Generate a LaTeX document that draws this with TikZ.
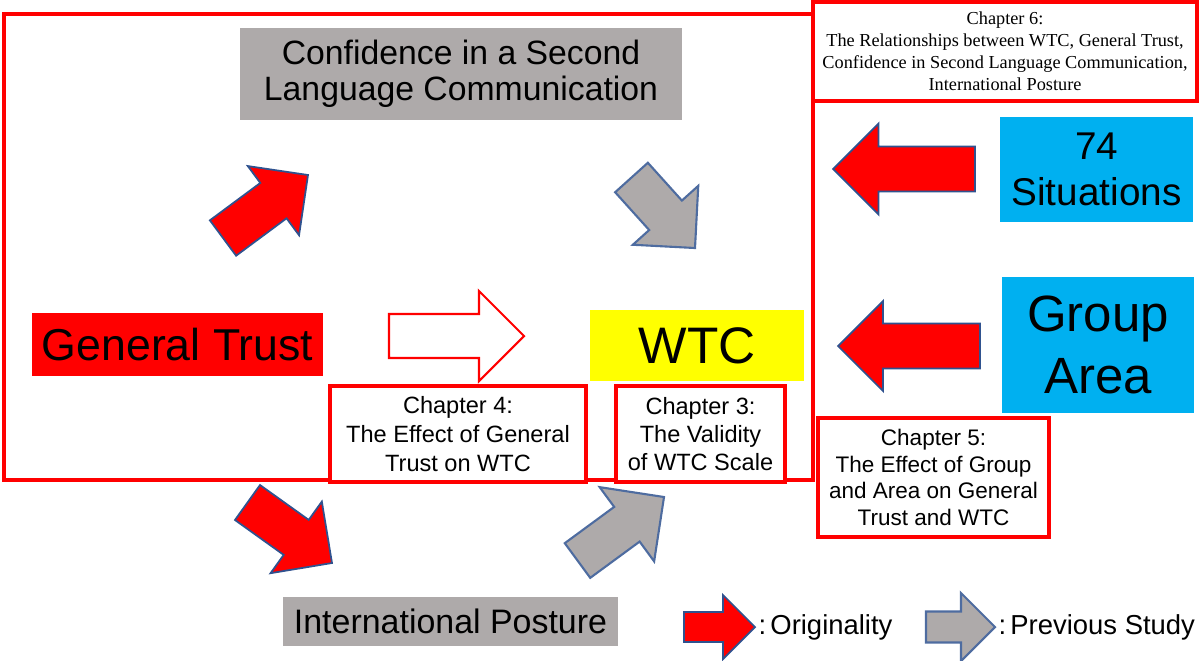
\documentclass[tikz,border=0pt]{standalone}
\usepackage{fontspec}
\setmainfont{Liberation Sans}
\newfontfamily\chapserif{Liberation Serif}
\usetikzlibrary{calc}

\definecolor{pptred}{HTML}{FF0000}
\definecolor{pptgray}{HTML}{AEAAAA}
\definecolor{pptblue}{HTML}{00B0F0}
\definecolor{pptyellow}{HTML}{FFFF00}
\definecolor{pptline}{HTML}{2F528F}

% block arrow: [style]{tail}{tip}{half shaft}{half head}
\newcommand{\fatarrow}[5][]{%
  \coordinate (fa) at ($(#3)!#5!(#2)$);
  \draw[#1] ($(#2)!#4!90:(#3)$) -- ($(fa)!#4!90:(#3)$) -- ($(fa)!#5!90:(#3)$)
    -- (#3) -- ($(fa)!#5!-90:(#3)$) -- ($(fa)!#4!-90:(#3)$) -- ($(#2)!#4!-90:(#3)$) -- cycle;
}

\tikzset{
  greybox/.style={fill=pptgray, inner sep=0pt, align=center},
  bluebox/.style={fill=pptblue, inner sep=0pt, align=center},
  chapbox/.style={draw=pptred, line width=1.2pt, fill=white, inner sep=0pt, align=center},
  redarrow/.style={fill=pptred, draw=pptline, line width=0.5pt},
  greyarrow/.style={fill=pptgray, draw=pptline!85, line width=0.6pt},
  legendtext/.style={anchor=west, inner sep=0pt, font=\fontsize{7.8}{9.4}\selectfont},
}

\begin{document}
\begin{tikzpicture}[x=0.01cm, y=-0.01cm]
    \useasboundingbox (0,0) rectangle (1201,660);

    % frame round the model
    \draw[pptred, line width=1.2pt] (4,14) rectangle (813,480);

    \node[chapbox, minimum width=3.84cm, minimum height=0.99cm,
          font=\chapserif\fontsize{5.2}{6.3}\selectfont] (ch6) at (1005,51.5) {
        Chapter 6:\\
        The Relationships between WTC, General Trust,\\
        Confidence in Second Language Communication,\\
        International Posture
    };

    % variables
    \node[greybox, minimum width=4.42cm, minimum height=0.92cm,
          font=\fontsize{9.6}{10.3}\selectfont] (conf) at (461,74) {Confidence in a Second\\Language Communication};
    \node[fill=pptred, inner sep=0pt, minimum width=2.91cm, minimum height=0.63cm,
          font=\fontsize{12.7}{15}\selectfont] (trust) at (177.5,344.5) {General Trust};
    \node[fill=pptyellow, inner sep=0pt, minimum width=2.14cm, minimum height=0.71cm,
          font=\fontsize{14.6}{17}\selectfont] (wtc) at (697,345.5) {WTC};
    \node[greybox, minimum width=3.35cm, minimum height=0.49cm,
          font=\fontsize{9.65}{11}\selectfont] (posture) at (450.5,621.5) {International Posture};
    \node[bluebox, minimum width=1.93cm, minimum height=1.05cm,
          font=\fontsize{11}{13}\selectfont] (sit) at (1096.5,169.5) {74\\Situations};
    \node[bluebox, minimum width=1.92cm, minimum height=1.36cm,
          font=\fontsize{14.5}{17.5}\selectfont] (grp) at (1098,345) {Group\\Area};

    % chapters
    \node[chapbox, minimum width=2.56cm, minimum height=0.96cm,
          font=\fontsize{6.7}{8.2}\selectfont] (ch4) at (458,434) {Chapter 4:\\The Effect of General\\Trust on WTC};
    \node[chapbox, minimum width=1.69cm, minimum height=0.96cm,
          font=\fontsize{6.7}{8}\selectfont] (ch3) at (700.5,434) {Chapter 3:\\The Validity\\of WTC Scale};
    \node[chapbox, minimum width=2.31cm, minimum height=1.19cm,
          font=\fontsize{6.4}{7.6}\selectfont] (ch5) at (933.5,477.5) {Chapter 5:\\The Effect of Group\\and Area on General\\Trust and WTC};

    % arrows
    \coordinate (trust-conf) at (223,238);   \coordinate (conf-in) at (308,175);
    \coordinate (conf-wtc) at (631.5,177.5); \coordinate (wtc-top) at (695,248);
    \coordinate (trust-wtc) at (389,336);    \coordinate (wtc-left) at (524,336);
    \coordinate (trust-post) at (247.5,502.5); \coordinate (post-in) at (332,563);
    \coordinate (post-wtc) at (577.5,560.5); \coordinate (wtc-bot) at (664,497);
    \coordinate (sit-out) at (975,169);      \coordinate (sit-in) at (833,169);
    \coordinate (grp-out) at (980,346);      \coordinate (grp-in) at (838,346);

    \fatarrow[redarrow]{trust-conf}{conf-in}{0.22cm}{0.43cm}
    \fatarrow[greyarrow]{conf-wtc}{wtc-top}{0.22cm}{0.44cm}
    \fatarrow[draw=pptred, fill=white, line width=0.6pt]{trust-wtc}{wtc-left}{0.22cm}{0.45cm}
    \fatarrow[redarrow]{trust-post}{post-in}{0.215cm}{0.44cm}
    \fatarrow[greyarrow]{post-wtc}{wtc-bot}{0.215cm}{0.46cm}
    \fatarrow[redarrow]{sit-out}{sit-in}{0.225cm}{0.455cm}
    \fatarrow[redarrow]{grp-out}{grp-in}{0.225cm}{0.45cm}

    % legend
    \coordinate (lr-s) at (684,627); \coordinate (lr-e) at (755,627);
    \coordinate (lg-s) at (926,627); \coordinate (lg-e) at (995,627);
    \fatarrow[redarrow]{lr-s}{lr-e}{0.15cm}{0.32cm}
    \fatarrow[greyarrow]{lg-s}{lg-e}{0.155cm}{0.34cm}
    \node[legendtext] (orig) at (758,627) {:\hspace{0.15em}Originality};
    \node[legendtext] (prev) at (998,627) {:\hspace{0.15em}Previous Study};
\end{tikzpicture}
\end{document}
